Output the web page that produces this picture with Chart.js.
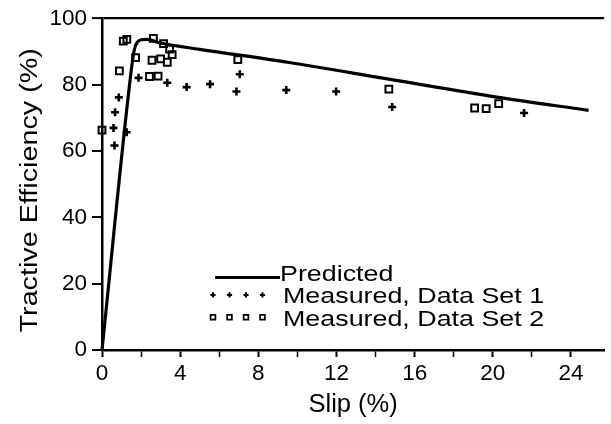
<!DOCTYPE html>
<html>
<head>
<meta charset="utf-8">
<script src="https://cdn.jsdelivr.net/npm/chart.js@4.4.0/dist/chart.umd.min.js"></script>
<style>
  html, body { margin: 0; padding: 0; background: #fff; }
  #wrap { width: 611px; height: 424px; }
</style>
</head>
<body>
<div id="wrap"><canvas id="c" width="611" height="424"></canvas></div>
<script>
// Predicted tractive efficiency curve
const predSlip = [0, 1.5, 1.65, 1.8, 2.0, 2.3, 3.0, 5.0, 9.5, 14.6, 20.2, 24.9];
const predEff  = [0, 84.5, 90.5, 92.8, 93.6, 93.7, 92.6, 90.7, 86.8, 81.8, 76.3, 72.3];

// Measured, data set 1
const set1Slip = [0.64, 0.59, 0.67, 0.86, 1.26, 1.87, 3.34, 4.33, 5.53, 6.88, 7.05, 9.43, 11.98, 14.85, 21.6];
const set1Eff  = [61.7, 67.0, 71.7, 76.2, 65.7, 82.1, 80.6, 79.3, 80.2, 78.0, 83.2, 78.4, 78.0, 73.3, 71.5];

// Measured, data set 2
const set2Slip = [0, 0.89, 1.09, 1.27, 1.72, 2.43, 2.56, 2.63, 2.87, 3.0, 3.15, 3.34, 3.46, 3.59, 6.95, 14.68, 19.07, 19.66, 20.3];
const set2Eff  = [66.3, 84.2, 93.2, 93.7, 88.2, 82.5, 87.4, 94.0, 82.6, 87.8, 92.4, 86.8, 90.8, 89.1, 87.6, 78.7, 73.0, 72.8, 74.3];

// Axis ticks and text
const slipTicks = [0, 4, 8, 12, 16, 20, 24];
const effTicks = [0, 20, 40, 60, 80, 100];
const seriesNames = ['Predicted', 'Measured, Data Set 1', 'Measured, Data Set 2'];
const slipTitle = 'Slip (%)';
const effTitle = 'Tractive Efficiency (%)';

const FONT = "'Liberation Sans', Arial, Helvetica, sans-serif";
const toPoints = (xs, ys) => xs.map((x, i) => ({ x, y: ys[i] }));

// Legend drawn inside the plot, plus the stretched vertical axis title
const paperLegend = {
  id: 'paperLegend',
  afterDraw(chart) {
    const { ctx, chartArea } = chart;
    const names = chart.data.datasets.map(d => d.label);
    const markX = chartArea.left + 111;   // first sample marker
    const textX = chartArea.left + 178;
    const base0 = chartArea.bottom - 69;  // first text baseline
    const rowGap = 22.4;
    ctx.save();
    ctx.fillStyle = '#000';
    ctx.strokeStyle = '#000';
    ctx.font = '22px ' + FONT;
    ctx.textAlign = 'left';
    ctx.textBaseline = 'alphabetic';
    names.forEach((name, i) => {
      const base = base0 + i * rowGap;
      if (i === 0) {
        ctx.lineWidth = 3;
        ctx.beginPath();
        ctx.moveTo(markX + 2, base - 3.5);
        ctx.lineTo(textX, base - 3.5);
        ctx.stroke();
      } else {
        const cy = base - 8.5;
        for (let k = 0; k < 4; k++) {
          const cx = markX + k * 16.5;
          ctx.beginPath();
          if (i === 1) {
            ctx.lineWidth = 2;
            ctx.moveTo(cx - 2.6, cy); ctx.lineTo(cx + 2.6, cy);
            ctx.moveTo(cx, cy - 2.6); ctx.lineTo(cx, cy + 2.6);
          } else {
            ctx.lineWidth = 1.7;
            ctx.rect(cx - 2.4, cy - 2.4, 4.8, 4.8);
          }
          ctx.stroke();
        }
      }
      ctx.save();
      ctx.translate(textX + (i === 0 ? 0 : 3), base);
      ctx.scale(1.22, 1);
      ctx.fillText(name, 0, 0);
      ctx.restore();
    });

    // vertical axis title
    ctx.save();
    ctx.translate(31, (chartArea.top + chartArea.bottom) / 2 + 6);
    ctx.rotate(-Math.PI / 2);
    ctx.scale(1.25, 1);
    ctx.font = '23px ' + FONT;
    ctx.textAlign = 'center';
    ctx.textBaseline = 'middle';
    ctx.fillText(effTitle, 0, 0);
    ctx.restore();
    ctx.restore();
  }
};

new Chart(document.getElementById('c'), {
  type: 'scatter',
  data: {
    datasets: [
      {
        label: seriesNames[0],
        data: toPoints(predSlip, predEff),
        showLine: true,
        borderColor: '#000',
        borderWidth: 3.2,
        pointRadius: 0,
        cubicInterpolationMode: 'monotone',
        clip: false
      },
      {
        label: seriesNames[1],
        data: toPoints(set1Slip, set1Eff),
        pointStyle: 'cross',
        pointRadius: 4,
        pointBorderWidth: 2.6,
        borderColor: '#000',
        backgroundColor: '#000',
        clip: false
      },
      {
        label: seriesNames[2],
        data: toPoints(set2Slip, set2Eff),
        pointStyle: 'rect',
        pointRadius: 4.8,
        pointBorderWidth: 2,
        borderColor: '#000',
        backgroundColor: 'rgba(0,0,0,0)',
        clip: false
      }
    ]
  },
  options: {
    responsive: false,
    animation: false,
    devicePixelRatio: 1,
    layout: { padding: { left: 0, right: 2, top: 14, bottom: 0 } },
    plugins: { legend: { display: false }, tooltip: { enabled: false } },
    scales: {
      x: {
        type: 'linear',
        min: 0,
        max: 25.7,
        afterFit(scale) { scale.height = 74; },
        ticks: {
          stepSize: 2,
          includeBounds: false,
          autoSkip: false,
          maxRotation: 0,
          padding: 3,
          color: '#000',
          font: { family: FONT, size: 22.5 },
          callback: v => (slipTicks.includes(v) ? String(v) : '')
        },
        grid: {
          drawOnChartArea: false,
          drawTicks: true,
          tickLength: 7,
          tickColor: '#000',
          tickWidth: ctx => (slipTicks.includes(ctx.tick.value) ? 2 : 1.5)
        },
        border: { display: true, color: '#000', width: 2.5 },
        title: {
          display: true,
          text: slipTitle,
          color: '#000',
          font: { family: FONT, size: 25.5 },
          padding: { top: 0, bottom: 4 }
        }
      },
      y: {
        type: 'linear',
        min: 0,
        max: 100,
        afterFit(scale) { scale.width = 102; },
        afterBuildTicks(scale) { scale.ticks = effTicks.map(v => ({ value: v })); },
        ticks: {
          padding: 5,
          color: '#000',
          font: { family: FONT, size: 22.5 }
        },
        grid: {
          drawOnChartArea: true,
          drawTicks: true,
          tickLength: 10,
          tickColor: '#000',
          tickWidth: 2,
          color: ctx => (ctx.tick && ctx.tick.value === 100 ? '#000' : 'rgba(0,0,0,0)'),
          lineWidth: ctx => (ctx.tick && ctx.tick.value === 100 ? 2.2 : 0)
        },
        border: { display: true, color: '#000', width: 2.5 }
      }
    }
  },
  plugins: [paperLegend]
});
</script>
</body>
</html>
